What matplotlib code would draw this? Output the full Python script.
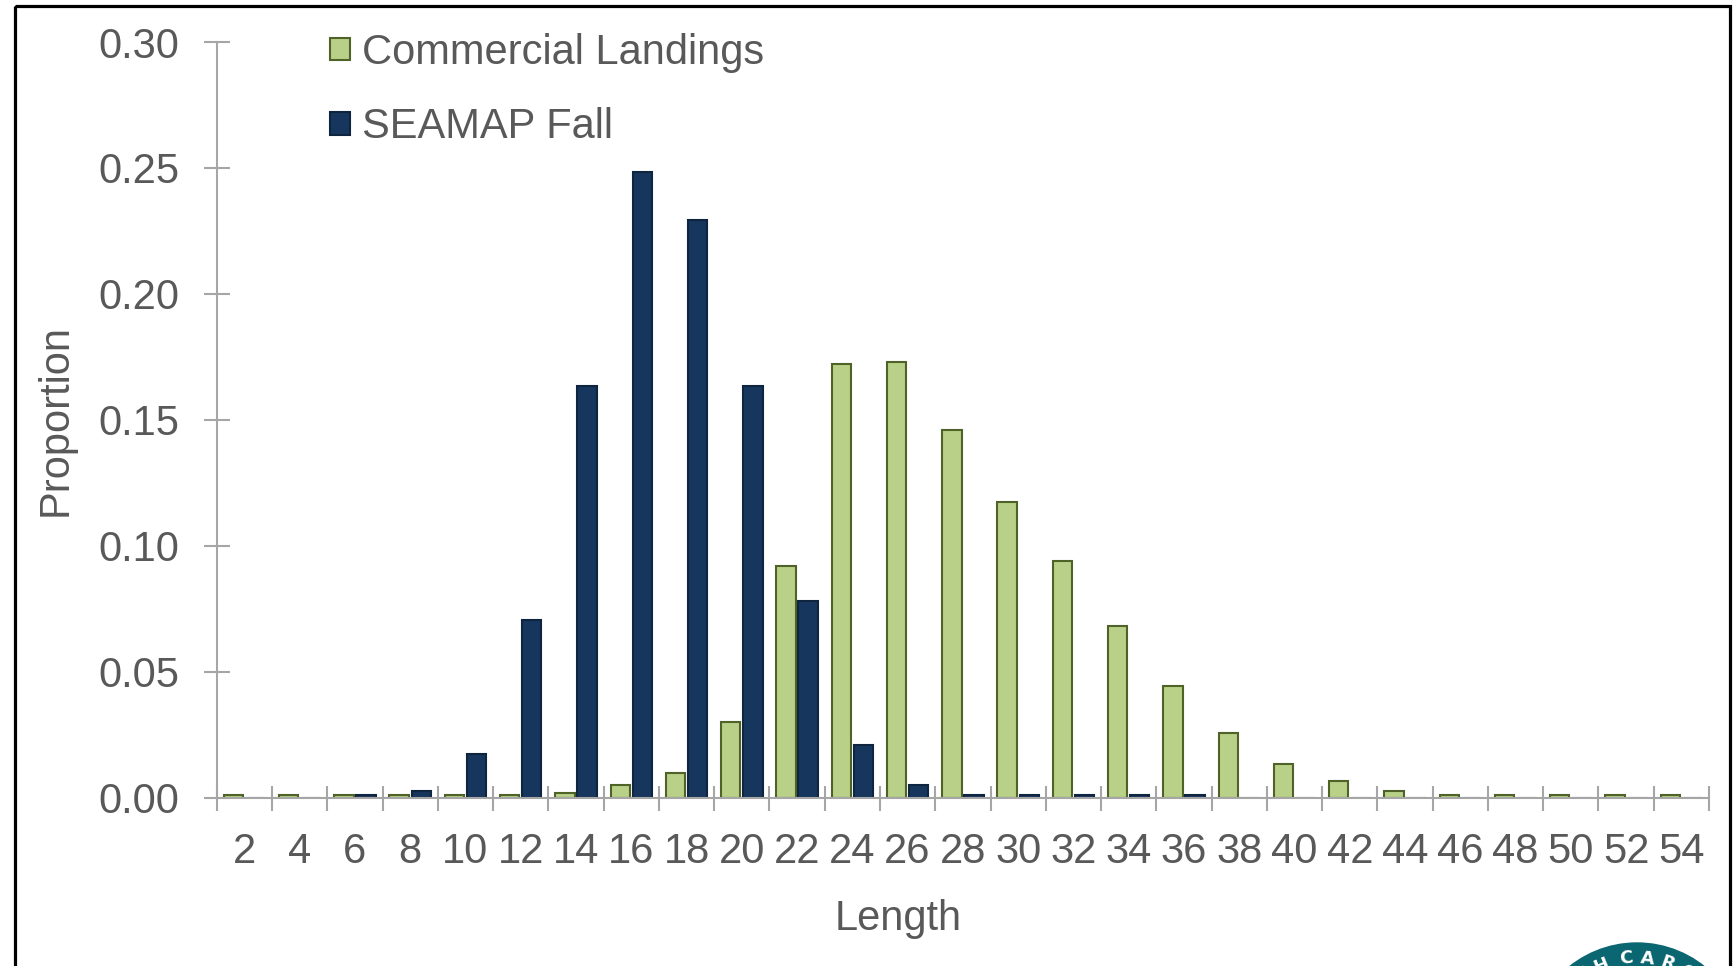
import numpy as np
import matplotlib
matplotlib.use("Agg")
import matplotlib.pyplot as plt
from matplotlib.patches import Rectangle, Circle

# length classes (inches) and proportion at length
lengths = list(range(2, 56, 2))
commercial = [0.001, 0.001, 0.001, 0.001, 0.001, 0.001, 0.002, 0.005, 0.010,
              0.030, 0.092, 0.172, 0.173, 0.146, 0.1175, 0.094, 0.068, 0.0445,
              0.0255, 0.0135, 0.0065, 0.0025, 0.001, 0.001, 0.001, 0.001, 0.001]
seamap_fall = [0.0, 0.0, 0.001, 0.0025, 0.0175, 0.0705, 0.1635, 0.2485, 0.2295,
               0.1635, 0.078, 0.021, 0.005, 0.001, 0.001, 0.001, 0.001, 0.001,
               0.0, 0.0, 0.0, 0.0, 0.0, 0.0, 0.0, 0.0, 0.0]
yticks = [0.00, 0.05, 0.10, 0.15, 0.20, 0.25, 0.30]

GREEN = '#b8d088'
GREEN_EDGE = '#4f6228'
NAVY = '#17365d'
NAVY_EDGE = '#0f243e'
AXIS_GREY = '#a6a6a6'
TEXT_GREY = '#595959'

plt.rcParams['font.family'] = ['Liberation Sans', 'DejaVu Sans']

fig = plt.figure(figsize=(17.34, 9.66), dpi=100)
ax = fig.add_axes([0.125, 0.1742, 0.8606, 0.7823])

x = np.arange(len(lengths))
w = 0.35
ax.bar(x - 0.2, commercial, w, color=GREEN, edgecolor=GREEN_EDGE,
       linewidth=1.5, label='Commercial Landings', zorder=3)
ax.bar(x + 0.2, seamap_fall, w, color=NAVY, edgecolor=NAVY_EDGE,
       linewidth=1.5, label='SEAMAP Fall', zorder=3)

ax.set_xlim(-0.5, len(lengths) - 0.5)
ax.set_ylim(0, 0.30)

# labels sit at class centres, tick marks at class boundaries
ax.set_xticks(x, [str(v) for v in lengths])
ax.set_xticks(np.arange(-0.5, len(lengths)), minor=True)
ax.tick_params(axis='x', which='major', length=0, pad=25,
               labelsize=30, labelcolor=TEXT_GREY)
ax.tick_params(axis='x', which='minor', direction='inout', length=18,
               width=1.5, color=AXIS_GREY)

ax.set_yticks(yticks, [f'{v:.2f}' for v in yticks])
ax.tick_params(axis='y', direction='inout', length=18.5, width=1.5,
               color=AXIS_GREY, pad=17.4, labelsize=30, labelcolor=TEXT_GREY)

for side in ('top', 'right'):
    ax.spines[side].set_visible(False)
for side in ('left', 'bottom'):
    ax.spines[side].set_color(AXIS_GREY)
    ax.spines[side].set_linewidth(1.5)
    ax.spines[side].set_zorder(4)

ax.set_xlabel('Length', fontsize=30, color=TEXT_GREY, va='center')
ax.xaxis.set_label_coords(0.4565, -0.161)
ax.set_ylabel('Proportion', fontsize=30, color=TEXT_GREY, va='center')
ax.yaxis.set_label_coords(-0.1077, 0.5)

ax.legend(loc='upper left', bbox_to_anchor=(0.1903, 0.966),
          bbox_transform=fig.transFigure, frameon=False, fontsize=30,
          labelcolor=TEXT_GREY, handlelength=0.47, handleheight=0.47,
          handletextpad=0.31, labelspacing=0.83, borderpad=0,
          borderaxespad=0)

# overlay in pixel units for the slide frame and the seal in the corner
over = fig.add_axes([0, 0, 1, 1], zorder=10)
over.set_xlim(0, 1734)
over.set_ylim(966, 0)
over.axis('off')
over.patch.set_alpha(0)
over.add_patch(Rectangle((15, 5.5), 1715, 1100, fill=False,
                         edgecolor='black', linewidth=2.3))
cx, cy, r_text = 1637, 1051, 93
over.add_patch(Circle((cx, cy), 108, color='#0a6670'))
# only the top of the seal ring shows; arc offsets in px from its apex
seal_chars = ['T', 'H', 'C', 'A', 'R', 'O']
seal_arc = [-57.5, -36.5, -10.5, 10.5, 31.5, 52.5]
for ch, s in zip(seal_chars, seal_arc):
    ang = s / r_text
    over.text(cx + r_text * np.sin(ang), cy - r_text * np.cos(ang), ch,
              rotation=-np.rad2deg(ang), ha='center', va='center',
              fontsize=13, fontweight='bold', color='white',
              family='DejaVu Sans')

fig.savefig('out.png', dpi=100)
